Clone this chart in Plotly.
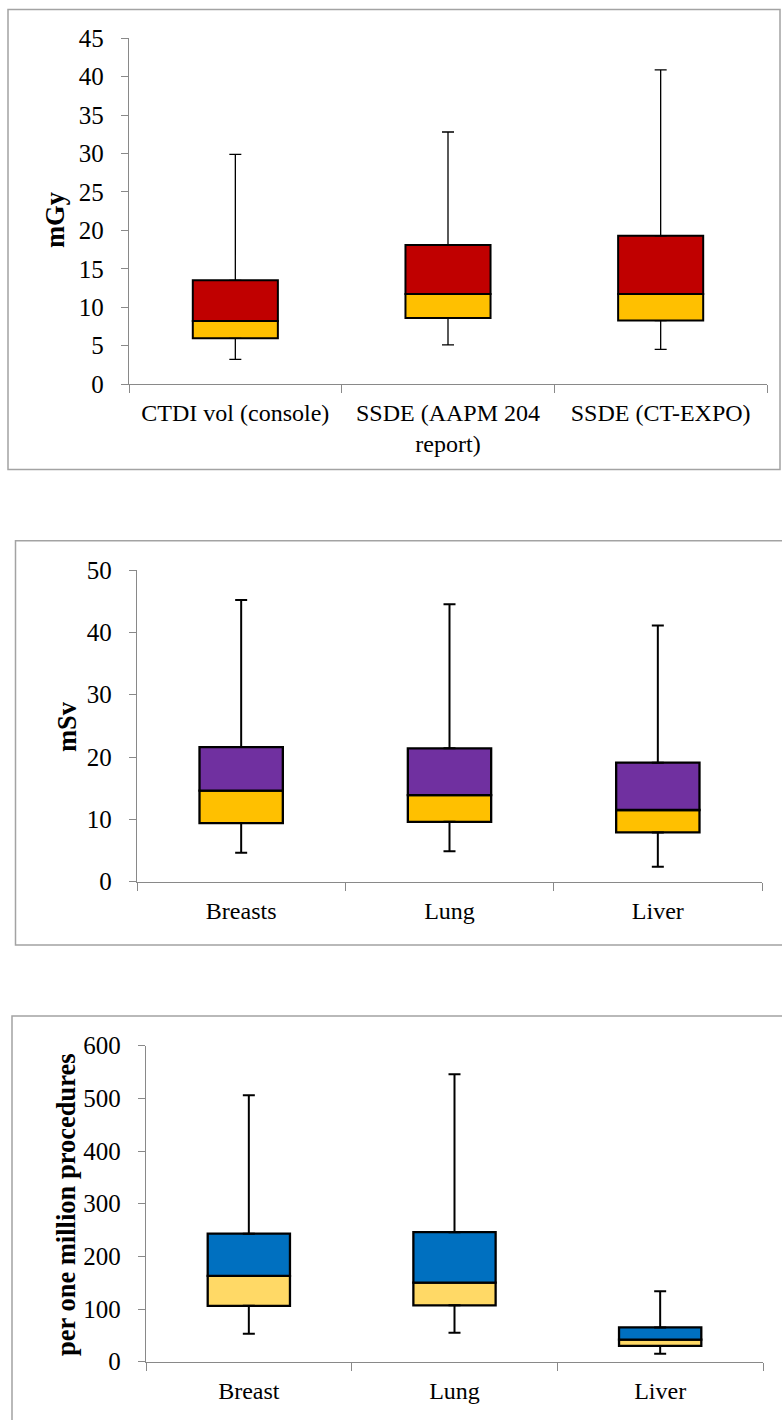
import plotly.graph_objects as go
from plotly.subplots import make_subplots

# ---------------- data ----------------
cats1 = ["CTDI vol (console)", "SSDE (AAPM 204<br>report)", "SSDE (CT-EXPO)"]
min1 = [3.2, 5.1, 4.5]
q1_1 = [5.95, 8.6, 8.25]
med1 = [8.2, 11.7, 11.7]
q3_1 = [13.5, 18.1, 19.3]
max1 = [29.9, 32.8, 40.9]

cats2 = ["Breasts", "Lung", "Liver"]
min2 = [4.65, 4.9, 2.4]
q1_2 = [9.4, 9.6, 7.9]
med2 = [14.6, 13.9, 11.5]
q3_2 = [21.6, 21.4, 19.1]
max2 = [45.2, 44.5, 41.1]

cats3 = ["Breast", "Lung", "Liver"]
min3 = [53, 55, 15]
q1_3 = [106, 107, 30]
med3 = [163, 150, 42]
q3_3 = [243, 246, 65]
max3 = [506, 546, 134]

ytitles = ["mGy", "mSv", "per one million procedures"]
yranges = [[0, 45], [0, 50], [0, 600]]
ydticks = [5, 10, 100]
upper_colors = ["#C00000", "#7030A0", "#0070C0"]
lower_colors = ["#FFC000", "#FFC000", "#FFD966"]

# ---------------- layout geometry (pixels in the final picture) ----------------
W, H = 782, 1420
FONT = "Liberation Serif, Times New Roman, serif"
AXC = "#898989"

plot_px = [  # x0, x1, ytop, ybottom
    (129, 767, 38.3, 384),
    (137, 762, 570, 881.7),
    (146, 763, 1045.7, 1361.7),
]
border_px = [
    (8, 780, 9.5, 469.5),
    (15.5, 800, 540.7, 945),
    (12, 800, 1016, 1440),
]
title_px = [(55, 220), (67, 727), (66, 1205)]
whisker_w = [1.3, 2, 2]
box_w = [2, 2.3, 2.3]


def fx(x):
    return x / W


def fy(y):
    return 1 - y / H


fig = make_subplots(rows=3, cols=1)

panels = [
    (cats1, min1, q1_1, med1, q3_1, max1),
    (cats2, min2, q1_2, med2, q3_2, max2),
    (cats3, min3, q1_3, med3, q3_3, max3),
]

for i, (cats, mn, q1, md, q3, mx) in enumerate(panels):
    r = i + 1
    fig.add_trace(go.Scatter(
        x=cats, y=q3, mode="markers", marker=dict(size=1, color="rgba(0,0,0,0)"),
        error_y=dict(type="data", symmetric=False,
                     array=[a - b for a, b in zip(mx, q3)],
                     arrayminus=[0] * len(cats),
                     color="black", thickness=whisker_w[i], width=6),
        showlegend=False, hoverinfo="skip"), row=r, col=1)
    fig.add_trace(go.Scatter(
        x=cats, y=q1, mode="markers", marker=dict(size=1, color="rgba(0,0,0,0)"),
        error_y=dict(type="data", symmetric=False,
                     array=[0] * len(cats),
                     arrayminus=[a - b for a, b in zip(q1, mn)],
                     color="black", thickness=whisker_w[i], width=6),
        showlegend=False, hoverinfo="skip"), row=r, col=1)
    fig.add_trace(go.Bar(
        x=cats, y=[a - b for a, b in zip(md, q1)], base=q1, width=0.4,
        marker=dict(color=lower_colors[i], line=dict(color="black", width=box_w[i])),
        showlegend=False, hoverinfo="skip"), row=r, col=1)
    fig.add_trace(go.Bar(
        x=cats, y=[a - b for a, b in zip(q3, md)], base=md, width=0.4,
        marker=dict(color=upper_colors[i], line=dict(color="black", width=box_w[i])),
        showlegend=False, hoverinfo="skip"), row=r, col=1)

    x0, x1, yt, yb = plot_px[i]
    xa = "xaxis" if r == 1 else f"xaxis{r}"
    ya = "yaxis" if r == 1 else f"yaxis{r}"
    fig.layout[xa].update(
        domain=[fx(x0), fx(x1)], type="category", range=[-0.5, 2.5], automargin=False,
        tickson="boundaries", ticks="outside", ticklen=8, tickcolor=AXC, tickwidth=1.3,
        showline=True, linecolor=AXC, linewidth=1.3, showgrid=False, zeroline=False,
        ticklabelstandoff=7,
        tickfont=dict(family=FONT, size=24, color="black"))
    fig.layout[ya].update(
        domain=[fy(yb), fy(yt)], range=yranges[i], dtick=ydticks[i], tick0=0,
        automargin=False,
        ticks="outside", ticklen=7, tickcolor=AXC, tickwidth=1.3,
        showline=True, linecolor=AXC, linewidth=1.3, showgrid=False, zeroline=False,
        ticklabelstandoff=12,
        tickfont=dict(family=FONT, size=25, color="black"))

    bx0, bx1, by0, by1 = border_px[i]
    fig.add_shape(type="rect", xref="paper", yref="paper",
                  x0=fx(bx0), x1=fx(bx1), y0=fy(by1), y1=fy(by0),
                  line=dict(color="#a3a3a3", width=1.5), fillcolor="rgba(0,0,0,0)",
                  layer="below")
    tx, ty = title_px[i]
    fig.add_annotation(text=f"<b>{ytitles[i]}</b>", xref="paper", yref="paper",
                       x=fx(tx), y=fy(ty), showarrow=False, textangle=-90,
                       xanchor="center", yanchor="middle",
                       font=dict(family=FONT, size=26.5, color="black"))

fig.update_layout(
    width=W, height=H, margin=dict(l=0, r=0, t=0, b=0, autoexpand=False),
    paper_bgcolor="white", plot_bgcolor="white", barmode="overlay",
    showlegend=False, font=dict(family=FONT, color="black"))

fig.write_html(
    "out.html",
    config={"displayModeBar": False},
    post_script="document.documentElement.style.margin='0';"
                "document.body.style.margin='0';"
                "document.body.style.overflow='hidden';",
)
